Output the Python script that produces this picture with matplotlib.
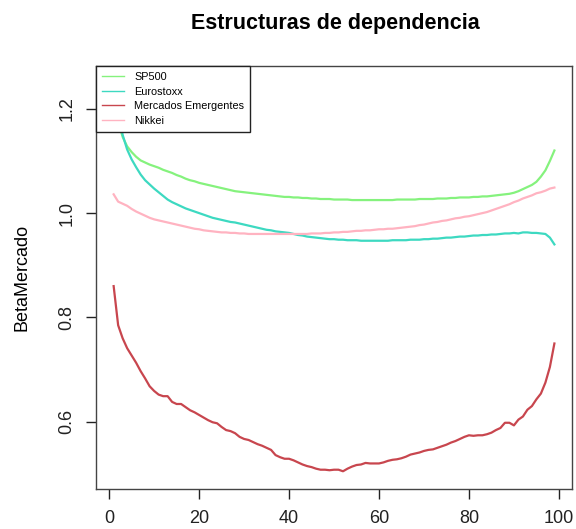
import numpy as np
import matplotlib
matplotlib.use("Agg")
from matplotlib import pyplot as plt

plt.rcParams['font.family'] = ['Liberation Sans', 'DejaVu Sans']

cuantil = np.arange(1, 100)

sp500 = [1.215, 1.175, 1.146, 1.128, 1.117, 1.108, 1.101, 1.097, 1.093, 1.090,
         1.087, 1.083, 1.080, 1.077, 1.073, 1.070, 1.066, 1.063, 1.061, 1.058,
         1.056, 1.054, 1.052, 1.050, 1.048, 1.046, 1.044, 1.042, 1.041, 1.040,
         1.039, 1.038, 1.037, 1.036, 1.035, 1.034, 1.033, 1.032, 1.031, 1.031,
         1.030, 1.030, 1.029, 1.029, 1.028, 1.028, 1.027, 1.027, 1.027, 1.026,
         1.026, 1.026, 1.026, 1.025, 1.025, 1.025, 1.025, 1.025, 1.025, 1.025,
         1.025, 1.025, 1.025, 1.026, 1.026, 1.026, 1.026, 1.026, 1.027, 1.027,
         1.027, 1.027, 1.028, 1.028, 1.028, 1.029, 1.029, 1.030, 1.030, 1.030,
         1.031, 1.031, 1.032, 1.032, 1.033, 1.034, 1.035, 1.036, 1.037, 1.039,
         1.042, 1.046, 1.050, 1.054, 1.060, 1.070, 1.082, 1.100, 1.120]

eurostoxx = [1.250, 1.195, 1.150, 1.122, 1.103, 1.088, 1.074, 1.063, 1.055, 1.047,
             1.040, 1.033, 1.026, 1.021, 1.017, 1.013, 1.009, 1.006, 1.003, 1.000,
             0.997, 0.994, 0.991, 0.989, 0.987, 0.985, 0.983, 0.982, 0.980, 0.978,
             0.976, 0.974, 0.972, 0.970, 0.968, 0.967, 0.965, 0.964, 0.963, 0.962,
             0.960, 0.958, 0.957, 0.955, 0.954, 0.953, 0.952, 0.951, 0.950, 0.950,
             0.949, 0.949, 0.948, 0.948, 0.948, 0.947, 0.947, 0.947, 0.947, 0.947,
             0.947, 0.947, 0.948, 0.948, 0.948, 0.948, 0.949, 0.949, 0.949, 0.950,
             0.950, 0.951, 0.951, 0.952, 0.953, 0.953, 0.954, 0.955, 0.955, 0.956,
             0.957, 0.957, 0.958, 0.958, 0.959, 0.959, 0.960, 0.961, 0.961, 0.962,
             0.961, 0.963, 0.963, 0.962, 0.962, 0.961, 0.960, 0.953, 0.940]

emergentes = [0.860, 0.785, 0.760, 0.741, 0.727, 0.713, 0.697, 0.683, 0.668, 0.659,
              0.652, 0.649, 0.649, 0.638, 0.634, 0.634, 0.628, 0.622, 0.618, 0.613,
              0.608, 0.603, 0.599, 0.597, 0.590, 0.584, 0.582, 0.578, 0.571, 0.567,
              0.565, 0.561, 0.557, 0.554, 0.550, 0.546, 0.536, 0.532, 0.529, 0.529,
              0.526, 0.522, 0.518, 0.515, 0.513, 0.510, 0.508, 0.508, 0.507, 0.508,
              0.508, 0.505, 0.510, 0.514, 0.517, 0.518, 0.521, 0.520, 0.520, 0.520,
              0.522, 0.525, 0.527, 0.528, 0.530, 0.533, 0.537, 0.539, 0.541, 0.544,
              0.546, 0.547, 0.550, 0.553, 0.556, 0.560, 0.563, 0.567, 0.571, 0.574,
              0.573, 0.574, 0.574, 0.576, 0.579, 0.584, 0.588, 0.598, 0.598, 0.593,
              0.604, 0.610, 0.623, 0.630, 0.643, 0.654, 0.675, 0.705, 0.750]

nikkei = [1.036, 1.022, 1.018, 1.014, 1.008, 1.003, 0.999, 0.995, 0.991, 0.988,
          0.986, 0.984, 0.982, 0.980, 0.978, 0.976, 0.974, 0.972, 0.970, 0.969,
          0.967, 0.966, 0.965, 0.964, 0.963, 0.963, 0.962, 0.962, 0.961, 0.961,
          0.960, 0.960, 0.960, 0.960, 0.960, 0.960, 0.960, 0.960, 0.960, 0.960,
          0.960, 0.960, 0.960, 0.960, 0.961, 0.961, 0.961, 0.962, 0.962, 0.963,
          0.963, 0.964, 0.964, 0.965, 0.966, 0.966, 0.967, 0.967, 0.968, 0.969,
          0.969, 0.970, 0.970, 0.971, 0.972, 0.973, 0.974, 0.975, 0.977, 0.978,
          0.980, 0.982, 0.983, 0.985, 0.986, 0.988, 0.990, 0.991, 0.993, 0.994,
          0.996, 0.998, 1.000, 1.002, 1.005, 1.008, 1.011, 1.014, 1.017, 1.021,
          1.024, 1.028, 1.031, 1.034, 1.038, 1.040, 1.043, 1.047, 1.049]

series = [("SP500", sp500, "#85f27d"),
          ("Eurostoxx", eurostoxx, "#3dd9c1"),
          ("Mercados Emergentes", emergentes, "#c8464e"),
          ("Nikkei", nikkei, "#ffb3c1")]

fig = plt.figure(figsize=(5.76, 5.29), dpi=100)
ax = fig.add_axes([0.1667, 0.0756, 0.8264, 0.7996])

for nombre, valores, color in series:
    ax.plot(cuantil, valores, color=color, lw=1.6, label=nombre)

ax.set_xlim(-2.92, 102.92)
ax.set_ylim(0.471, 1.282)
ax.set_xticks([0, 20, 40, 60, 80, 100])
ax.set_yticks([0.6, 0.8, 1.0, 1.2])
ax.set_yticklabels(["0.6", "0.8", "1.0", "1.2"], rotation=90, va="center")
ax.tick_params(direction="out", length=7, width=1, labelsize=13, pad=8,
               colors="#222222")
for s in ax.spines.values():
    s.set_color("#444444")
    s.set_linewidth(1)

ax.set_ylabel("BetaMercado", fontsize=13, labelpad=20)
fig.text(0.582, 0.955, "Estructuras de dependencia", ha="center", va="center",
         fontsize=15.5, fontweight="bold")

leg = ax.legend(loc="upper left", bbox_to_anchor=(0, 1), borderaxespad=0,
                fontsize=7.8, fancybox=False, framealpha=1, edgecolor="#222222",
                handlelength=2.0, handletextpad=1.0, labelspacing=0.42,
                borderpad=0.55)
leg.get_frame().set_linewidth(1)
for linea in leg.get_lines():
    linea.set_linewidth(1.0)

fig.savefig("out.png", dpi=100)
